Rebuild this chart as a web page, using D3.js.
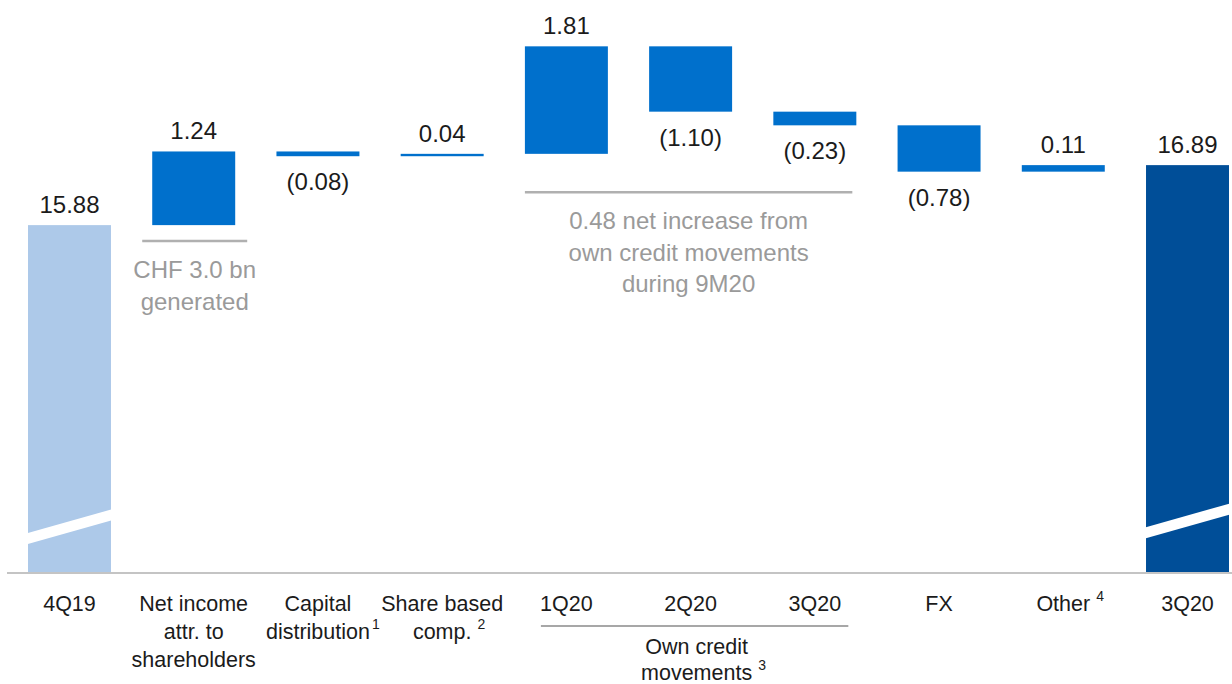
<!DOCTYPE html>
<html>
<head>
<meta charset="utf-8">
<script src="https://cdn.jsdelivr.net/npm/d3@7"></script>
<style>
  html, body { margin: 0; padding: 0; background: #fff; }
  svg { display: block; font-family: "Liberation Sans", Arial, sans-serif; }
</style>
</head>
<body>
<svg id="chart" width="1232" height="684"></svg>
<script>
// ---- data ----
const categoryKeys = ["4Q19", "NetIncome", "CapDist", "ShareComp", "1Q20", "2Q20", "3Q20own", "FX", "Other", "3Q20"];
const categoryLines = [
  ["4Q19"],
  ["Net income", "attr. to", "shareholders"],
  ["Capital", "distribution"],
  ["Share based", "comp."],
  ["1Q20"],
  ["2Q20"],
  ["3Q20"],
  ["FX"],
  ["Other"],
  ["3Q20"]
];
const categorySup = ["", "", "1", "2", "", "", "", "", "4", ""];
const barTypes = ["start", "delta", "delta", "delta", "delta", "delta", "delta", "delta", "delta", "end"];
const values = [15.88, 1.24, -0.08, 0.04, 1.81, -1.10, -0.23, -0.78, 0.11, 16.89];
const valueLabels = ["15.88", "1.24", "(0.08)", "0.04", "1.81", "(1.10)", "(0.23)", "(0.78)", "0.11", "16.89"];
const noteNetIncome = ["CHF 3.0 bn", "generated"];
const noteOwnCredit = ["0.48 net increase from", "own credit movements", "during 9M20"];
const groupLabel = ["Own credit", "movements"];
const groupSup = "3";

// ---- layout ----
const W = 1232, H = 684;
const baseY = 572;
const svg = d3.select("#chart");
svg.append("rect").attr("width", W).attr("height", H).attr("fill", "#fff");

const x = d3.scaleBand().domain(categoryKeys).range([28, 1229]).paddingInner(0.332).paddingOuter(0);
const y = d3.scaleLinear().domain([10.04, 19.67]).range([baseY, 0]);
const bw = x.bandwidth();

const colors = { start: "#adc9e9", delta: "#0070cc", end: "#004e98" };
const textColor = "#1b1b1b";
const grey = "#9a9a9a";

// compute waterfall
let run = 0;
const bars = values.map((v, i) => {
  let lo, hi;
  if (barTypes[i] === "start" || barTypes[i] === "end") {
    lo = y.domain()[0]; hi = v; run = v;
  } else {
    const s = run, e = run + v;
    lo = Math.min(s, e); hi = Math.max(s, e); run = e;
  }
  return { key: categoryKeys[i], type: barTypes[i], v, lo, hi, label: valueLabels[i], i };
});

// bars
svg.append("g").selectAll("rect").data(bars).join("rect")
  .attr("x", d => x(d.key))
  .attr("width", bw)
  .attr("y", d => y(d.hi))
  .attr("height", d => Math.max(2, y(d.lo) - y(d.hi)))
  .attr("fill", d => colors[d.type]);

// axis break stripes on total bars
const breakVals = { "4Q19": 10.8, "3Q20": 10.9 };
bars.filter(d => d.type !== "delta").forEach(d => {
  const yc = y(breakVals[d.key]);
  const x0 = x(d.key), x1 = x(d.key) + bw;
  const rise = 24, th = 11;
  svg.append("polygon")
    .attr("points", [
      [x0 - 1, yc + rise / 2 - th / 2], [x1 + 1, yc - rise / 2 - th / 2],
      [x1 + 1, yc - rise / 2 + th / 2], [x0 - 1, yc + rise / 2 + th / 2]
    ].map(p => p.join(",")).join(" "))
    .attr("fill", "#fff");
});

// baseline axis
svg.append("line")
  .attr("x1", 7).attr("x2", W).attr("y1", baseY + 1).attr("y2", baseY + 1)
  .attr("stroke", "#c4c4c4").attr("stroke-width", 2);

// value labels
svg.append("g").selectAll("text").data(bars).join("text")
  .attr("x", d => x(d.key) + bw / 2)
  .attr("y", d => d.v < 0 ? y(d.lo) + 34 : y(d.hi) - 12)
  .attr("text-anchor", "middle")
  .attr("font-size", 24)
  .attr("fill", textColor)
  .text(d => d.label);

// category labels
const lineH = 28;
categoryKeys.forEach((k, i) => {
  const cx = x(k) + bw / 2;
  categoryLines[i].forEach((ln, j) => {
    const t = svg.append("text")
      .attr("x", cx).attr("y", 611 + j * lineH)
      .attr("text-anchor", "middle")
      .attr("font-size", 21.5)
      .attr("fill", textColor)
      .text(ln);
    if (categorySup[i] && j === categoryLines[i].length - 1) {
      const len = t.node().getComputedTextLength();
      svg.append("text")
        .attr("x", cx + len / 2 + (categorySup[i] === "1" ? 2 : 6))
        .attr("y", 611 + j * lineH - 10)
        .attr("font-size", 14)
        .attr("fill", textColor)
        .text(categorySup[i]);
    }
  });
});

// own credit group underline + label
const gx0 = x("1Q20") + 16, gx1 = x("3Q20own") + bw - 8;
svg.append("line").attr("x1", gx0).attr("x2", gx1).attr("y1", 626).attr("y2", 626)
  .attr("stroke", "#8a8a8a").attr("stroke-width", 1.5);
const gcx = (gx0 + gx1) / 2 + 2;
groupLabel.forEach((ln, j) => {
  const t = svg.append("text")
    .attr("x", gcx).attr("y", 654 + j * 26)
    .attr("text-anchor", "middle")
    .attr("font-size", 21.5)
    .attr("fill", textColor)
    .text(ln);
  if (j === groupLabel.length - 1) {
    const len = t.node().getComputedTextLength();
    svg.append("text")
      .attr("x", gcx + len / 2 + 6).attr("y", 654 + j * 26 - 10)
      .attr("font-size", 14).attr("fill", textColor).text(groupSup);
  }
});

// grey annotations
function note(xa, xb, ly, lines) {
  svg.append("line").attr("x1", xa).attr("x2", xb).attr("y1", ly).attr("y2", ly)
    .attr("stroke", "#b0b0b0").attr("stroke-width", 2.5);
  const cx = (xa + xb) / 2;
  lines.forEach((ln, j) => {
    svg.append("text")
      .attr("x", cx).attr("y", ly + 37 + j * 31.5)
      .attr("text-anchor", "middle")
      .attr("font-size", 24)
      .attr("fill", grey)
      .text(ln);
  });
}
note(x("NetIncome") - 10, x("NetIncome") + bw + 12, y(15.88) + 16, noteNetIncome);
note(x("1Q20"), x("3Q20own") + bw - 4, y(17.56) + 67, noteOwnCredit);
</script>
</body>
</html>
